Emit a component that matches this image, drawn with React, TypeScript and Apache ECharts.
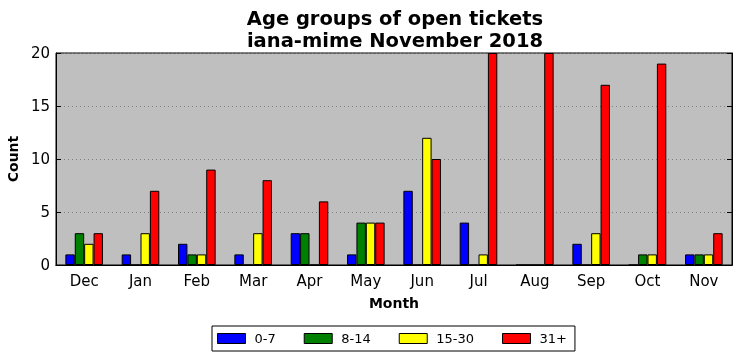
import React, { useEffect, useRef } from "react";
import * as echarts from "echarts";

const months = ["Dec", "Jan", "Feb", "Mar", "Apr", "May", "Jun", "Jul", "Aug", "Sep", "Oct", "Nov"];
const seriesNames = ["0-7", "8-14", "15-30", "31+"];
const age0to7 = [1, 1, 2, 1, 3, 1, 7, 4, 0, 2, 0, 1];
const age8to14 = [3, 0, 1, 0, 3, 4, 0, 0, 0, 0, 1, 1];
const age15to30 = [2, 3, 1, 3, 0, 4, 12, 1, 0, 3, 1, 1];
const age31plus = [3, 7, 9, 8, 6, 4, 10, 20, 20, 17, 19, 3];
const colors = ["#0000ff", "#008000", "#ffff00", "#ff0000"];
const yTicks = [0, 5, 10, 15, 20];

export default function App() {
  const ref = useRef<HTMLDivElement>(null);
  useEffect(() => {
    if (!ref.current) return;
    const chart = echarts.init(ref.current, null, { renderer: "svg" });
    const font = "DejaVu Sans";
    const data = [age0to7, age8to14, age15to30, age31plus];
    chart.setOption({
      animation: false,
      textStyle: { fontFamily: font },
      title: {
        text: "Age groups of open tickets\niana-mime November 2018",
        left: 390,
        top: 2,
        textAlign: "center",
        textStyle: { fontFamily: font, fontSize: 19.5, fontWeight: "bold", color: "#000", lineHeight: 22 },
      },
      legend: {
        data: seriesNames,
        left: 212,
        top: 326,
        icon: "rect",
        itemWidth: 28,
        itemHeight: 10,
        itemGap: 28,
        padding: [6, 8, 6, 5],
        borderColor: "#000",
        borderWidth: 1,
        borderRadius: 0,
        backgroundColor: "#fff",
        textStyle: { fontFamily: font, fontSize: 13, color: "#000", padding: [0, 0, 0, 4] },
        itemStyle: { borderColor: "#000", borderWidth: 1 },
      },
      grid: {
        left: 56, right: 10, top: 53, bottom: 96,
        containLabel: false, outerBoundsMode: "none",
        show: true, backgroundColor: "#bfbfbf", borderColor: "#000", borderWidth: 1,
      },
      xAxis: [
        {
          type: "category",
          data: months,
          name: "Month",
          nameLocation: "middle",
          nameGap: 31,
          nameTextStyle: { fontFamily: font, fontSize: 14, fontWeight: "bold", color: "#000" },
          axisLine: { lineStyle: { color: "#000" } },
          axisTick: { inside: true, alignWithLabel: true, length: 5, lineStyle: { color: "#000" } },
          axisLabel: { fontFamily: font, fontSize: 15, color: "#000", margin: 8 },
        },
        {
          type: "category",
          data: months,
          position: "top",
          axisLine: { lineStyle: { color: "#000" } },
          axisTick: { inside: true, alignWithLabel: true, length: 5, lineStyle: { color: "#000" } },
          axisLabel: { show: false },
        },
      ],
      yAxis: [
        {
          type: "value",
          min: 0,
          max: 20,
          interval: 5,
          name: "Count",
          nameLocation: "middle",
          nameGap: 34,
          nameTextStyle: { fontFamily: font, fontSize: 14, fontWeight: "bold", color: "#000" },
          axisLine: { show: true, lineStyle: { color: "#000" } },
          axisTick: { show: true, inside: true, length: 5, lineStyle: { color: "#000" } },
          axisLabel: {
            fontFamily: font,
            fontSize: 15,
            color: "#000",
            margin: 6,
            formatter: (v: number) => (yTicks.includes(v) ? String(v) : ""),
          },
          splitLine: { show: true, lineStyle: { color: "#808080", type: [1, 3], width: 1 } },
        },
        {
          type: "value",
          min: 0,
          max: 20,
          interval: 5,
          position: "right",
          axisLine: { show: true, lineStyle: { color: "#000" } },
          axisTick: { show: true, inside: true, length: 5, lineStyle: { color: "#000" } },
          axisLabel: { show: false },
          splitLine: { show: false },
        },
      ],
      series: seriesNames.map((name, i) => ({
        name,
        type: "bar",
        data: data[i],
        barWidth: 9.4,
        barGap: "0%",
        itemStyle: { color: colors[i], borderColor: "#000", borderWidth: 1 },
      })),
    });
    return () => chart.dispose();
  }, []);
  return <div ref={ref} style={{ position: "fixed", left: 0, top: 0, width: 742, height: 361 }} />;
}
